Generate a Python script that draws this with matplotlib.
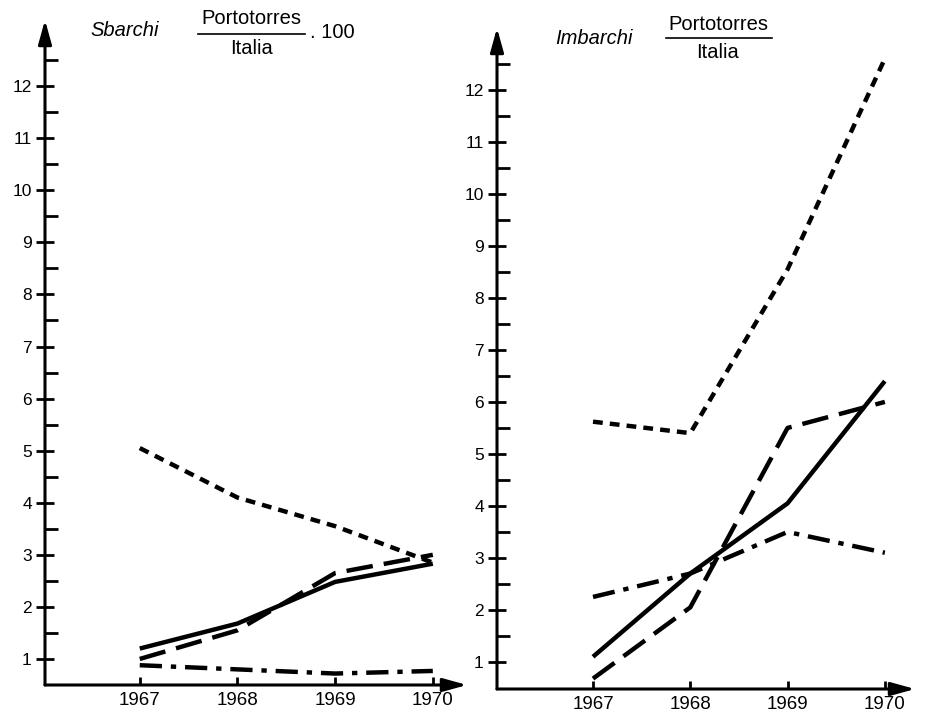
import matplotlib
matplotlib.use("Agg")
import matplotlib.pyplot as plt
from matplotlib.lines import Line2D

plt.rcParams['font.family'] = ['Liberation Sans', 'DejaVu Sans']

years = [1967, 1968, 1969, 1970]
y_ticks = list(range(1, 13))

# Sbarchi (unloading), Portotorres / Italia . 100
sb_solid = [1.2, 1.68, 2.48, 2.83]
sb_longdash = [1.0, 1.55, 2.65, 3.0]
sb_shortdash = [5.05, 4.1, 3.55, 2.85]
sb_dashdot = [0.88, 0.8, 0.72, 0.77]

# Imbarchi (loading)
im_solid = [1.1, 2.7, 4.05, 6.4]
im_longdash = [0.68, 2.05, 5.5, 6.0]
im_shortdash = [5.62, 5.4, 8.55, 12.6]
im_dashdot = [2.25, 2.7, 3.5, 3.1]

W, H = 925, 720
fig = plt.figure(figsize=(W / 100, H / 100), dpi=100)


def fx(x):
    return x / W


def fy(y):
    return 1 - y / H


def panel(rect, xlim, ylim, series):
    ax = fig.add_axes(rect)
    ax.set_xlim(*xlim)
    ax.set_ylim(*ylim)
    for s in ax.spines.values():
        s.set_visible(False)
    ax.patch.set_visible(False)
    # axis arrows
    ap = dict(arrowstyle='-|>,head_length=0.9,head_width=0.25', lw=2.2,
              color='black', mutation_scale=16, shrinkA=0, shrinkB=0)
    ax.annotate('', xy=(0, 1), xytext=(0, 0), xycoords='axes fraction', arrowprops=ap)
    ax.annotate('', xy=(1, 0), xytext=(0, 0), xycoords='axes fraction', arrowprops=ap)
    ax.set_yticks(y_ticks)
    ax.set_yticks([v + 0.5 for v in range(1, 13)], minor=True)
    ax.tick_params(axis='y', which='major', direction='inout', length=13, width=2,
                   labelsize=12.5, pad=3)
    ax.tick_params(axis='y', which='minor', direction='in', length=9, width=2)
    ax.set_xticks(years)
    ax.set_xticklabels([str(y) for y in years])
    ax.tick_params(axis='x', which='major', direction='in', length=6, width=2,
                   labelsize=13.5, pad=5)
    styles = [
        dict(linestyle='-'),
        dict(linestyle=(0, (6, 2.5))),
        dict(linestyle=(0, (2.2, 1.6))),
        dict(linestyle=(0, (5, 2, 1.2, 2))),
    ]
    for vals, st in zip(series, styles):
        ax.plot(years, vals, color='black', lw=3.2, solid_capstyle='butt',
                dash_capstyle='butt', **st)
    return ax


panel([fx(45), 35 / H, 422 / W, 665 / H], (1966.03, 1970.35), (0.5, 13.27),
      [sb_solid, sb_longdash, sb_shortdash, sb_dashdot])
panel([fx(497), 31 / H, 418 / W, 661 / H], (1966.013, 1970.31), (0.48, 13.19),
      [im_solid, im_longdash, im_shortdash, im_dashdot])

# titles with fraction
fs = 14.5
fig.text(fx(90), fy(31), 'Sbarchi', style='italic', fontsize=fs, va='center', ha='left')
fig.text(fx(251), fy(19), 'Portotorres', fontsize=fs, va='center', ha='center')
fig.add_artist(Line2D([fx(198), fx(305)], [fy(34), fy(34)], color='black', lw=1.2))
fig.text(fx(251), fy(48), 'Italia', fontsize=fs, va='center', ha='center')
fig.text(fx(310), fy(33), '. 100', fontsize=fs, va='center', ha='left')

fig.text(fx(555), fy(38), 'Imbarchi', style='italic', fontsize=fs, va='center', ha='left')
fig.text(fx(718), fy(24), 'Portotorres', fontsize=fs, va='center', ha='center')
fig.add_artist(Line2D([fx(666), fx(772)], [fy(38), fy(38)], color='black', lw=1.2))
fig.text(fx(718), fy(53), 'Italia', fontsize=fs, va='center', ha='center')

fig.savefig('out.png', dpi=100)
